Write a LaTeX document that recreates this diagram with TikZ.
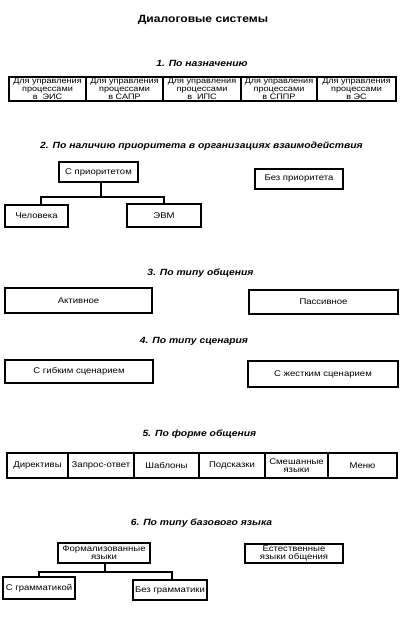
\documentclass[tikz,border=0pt]{standalone}
\usepackage{fontspec}
\setmainfont{Liberation Sans}[FakeStretch=1.15]
\begin{document}
\begin{tikzpicture}[x=1pt,y=-1pt,
  bx/.style={draw, line width=1.2pt, inner sep=0pt, align=center,
    font=\fontsize{8.3}{8.3}\selectfont},
  hd/.style={inner sep=0pt, font=\fontsize{9}{10}\selectfont\bfseries\itshape},
  ln/.style={line width=1.2pt}]
\useasboundingbox[fill=white] (0,0) rectangle (407,618);
\node[inner sep=0pt, font=\fontsize{10.5}{12}\selectfont\bfseries] (title) at (203,20) {Диалоговые системы};
% 1
\node[hd] (h1) at (202,63) {1. По назначению};
\tikzset{b1/.style={bx, minimum height=24, font=\fontsize{7.9}{8.2}\selectfont}}
\node[b1, minimum width=77] (a1) at (47.5,89) {Для управления\\процессами\\в\ \ ЭИС};
\node[b1, minimum width=77] (a2) at (124.5,89) {Для управления\\процессами\\в САПР};
\node[b1, minimum width=78] (a3) at (202,89) {Для управления\\процессами\\в\ \ ИПС};
\node[b1, minimum width=76] (a4) at (279,89) {Для управления\\процессами\\в СППР};
\node[b1, minimum width=79] (a5) at (356.5,89) {Для управления\\процессами\\в ЭС};
% 2
\node[hd] (h2) at (201.5,146.5) {2. По наличию приоритета в организациях взаимодействия};
\node[bx, minimum width=79, minimum height=20] (b1) at (98.5,172) {С приоритетом};
\node[bx, minimum width=88, minimum height=20] (b2) at (299,179) {Без приоритета};
\node[bx, minimum width=63, minimum height=22] (b3) at (36.5,216) {Человека};
\node[bx, minimum width=74, minimum height=23] (b4) at (164,215.5) {ЭВМ};
\coordinate (j2) at (101,197);
\draw[ln] ([xshift=2.5]b1.south) -- ([xshift=2.5]b1.south |- j2);
\draw[ln] ([xshift=4.5]b3.north) |- (b4.north |- j2) -- (b4.north);
% 3
\node[hd] (h3) at (200.5,273) {3. По типу общения};
\node[bx, minimum width=147, minimum height=25] (c1) at (78.5,300.5) {Активное};
\node[bx, minimum width=149, minimum height=24] (c2) at (323.5,302) {Пассивное};
% 4
\node[hd] (h4) at (194,341) {4. По типу сценария};
\node[bx, minimum width=148, minimum height=23] (d1) at (79,371.5) {С гибким сценарием};
\node[bx, minimum width=150, minimum height=26] (d2) at (323,374) {С жестким сценарием};
% 5
\node[hd] (h5) at (199.5,434) {5. По форме общения};
\node[bx, minimum width=61, minimum height=25] (e1) at (37.5,465.5) {Директивы};
\node[bx, minimum width=66, minimum height=25] (e2) at (101,465.5) {Запрос-ответ};
\node[bx, minimum width=65, minimum height=25] (e3) at (166.5,465.5) {Шаблоны};
\node[bx, minimum width=66, minimum height=25] (e4) at (232,465.5) {Подсказки};
\node[bx, minimum width=63, minimum height=25] (e5) at (296.5,465.5) {Смешанные\\языки};
\node[bx, minimum width=69, minimum height=25] (e6) at (362.5,465.5) {Меню};
% 6
\node[hd] (h6) at (201.5,523) {6. По типу базового языка};
\node[bx, minimum width=92, minimum height=20] (f1) at (104,553) {Формализованные\\языки};
\node[bx, minimum width=98, minimum height=19] (f2) at (294,553.5) {Естественные\\языки общения};
\node[bx, minimum width=72, minimum height=22] (f3) at (39,588) {С грамматикой};
\node[bx, minimum width=74, minimum height=20] (f4) at (170,590) {Без грамматики};
\coordinate (j6) at (105,572);
\draw[ln] ([xshift=1]f1.south) -- ([xshift=1]f1.south |- j6);
\draw[ln] (f3.north) |- ([xshift=2]f4.north |- j6) -- ([xshift=2]f4.north);
\end{tikzpicture}
\end{document}
